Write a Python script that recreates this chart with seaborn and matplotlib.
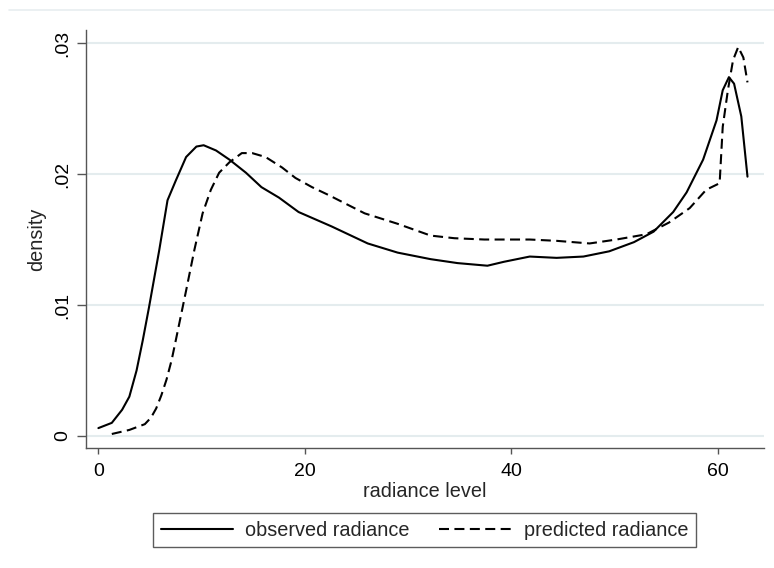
import matplotlib
matplotlib.use("Agg")
import matplotlib.pyplot as plt
from matplotlib.lines import Line2D
import seaborn as sns
import pandas as pd

# observed radiance (solid)
obs_x = [0.0, 1.3, 2.3, 3.0, 3.7, 4.3, 4.9, 5.9, 6.7, 7.5, 8.5, 9.5, 10.2, 11.4, 12.7,
         14.3, 15.8, 17.5, 19.4, 22.6, 26.1, 29.0, 32.2, 34.8, 37.7, 39.3, 41.8, 44.4,
         47.0, 49.5, 51.9, 53.8, 55.7, 57.0, 58.6, 59.9, 60.5, 61.1, 61.6, 62.3, 62.9]
obs_y = [0.0006, 0.0010, 0.0020, 0.0030, 0.0050, 0.0073, 0.0098, 0.0142, 0.0180, 0.0195,
         0.0213, 0.0221, 0.0222, 0.0218, 0.0211, 0.0201, 0.0190, 0.0182, 0.0171, 0.0160,
         0.0147, 0.0140, 0.0135, 0.0132, 0.0130, 0.0133, 0.0137, 0.0136, 0.0137, 0.0141,
         0.0148, 0.0156, 0.0171, 0.0186, 0.0211, 0.0241, 0.0264, 0.0274, 0.0269, 0.0244,
         0.0198]

# predicted radiance (dashed)
pred_x = [1.3, 3.0, 4.5, 5.1, 5.6, 6.1, 6.6, 7.1, 7.5, 8.5, 9.3, 10.1, 10.9, 11.7, 12.7,
          13.9, 14.9, 16.2, 17.8, 19.1, 20.7, 22.3, 25.8, 29.0, 32.2, 34.5, 37.4, 39.9,
          41.8, 44.4, 47.6, 50.2, 53.1, 55.3, 57.3, 58.9, 60.2, 60.5, 61.0, 61.5, 62.0,
          62.5, 62.9]
pred_y = [0.00015, 0.00046, 0.0009, 0.0014, 0.0021, 0.0031, 0.0043, 0.0058, 0.0073,
          0.0111, 0.0142, 0.0170, 0.0188, 0.0201, 0.0209, 0.0216, 0.0216, 0.0213, 0.0205,
          0.0197, 0.0190, 0.0184, 0.0170, 0.0162, 0.0153, 0.0151, 0.0150, 0.0150, 0.0150,
          0.0149, 0.0147, 0.0150, 0.0154, 0.0163, 0.0174, 0.0188, 0.0193, 0.0236, 0.0264,
          0.0287, 0.0297, 0.0289, 0.0270]

x_ticks = [0, 20, 40, 60]
y_ticks = [0, 0.01, 0.02, 0.03]
y_tick_labels = ["0", ".01", ".02", ".03"]

sns.set_theme(style="white")
plt.rcParams['font.family'] = ['Liberation Sans', 'DejaVu Sans']

FS = 14.3

fig = plt.figure(figsize=(7.74, 5.68), dpi=100)
ax = fig.add_axes([86/774, 1 - 448/568, (764 - 86)/774, (448 - 30)/568])

df_obs = pd.DataFrame({"x": obs_x, "y": obs_y})
df_pred = pd.DataFrame({"x": pred_x, "y": pred_y})
sns.lineplot(data=df_obs, x="x", y="y", ax=ax, color="black", lw=1.5,
             label="observed radiance", sort=False)
sns.lineplot(data=df_pred, x="x", y="y", ax=ax, color="black", lw=1.5,
             linestyle=(0, (4.8, 2.6)), label="predicted radiance", sort=False)

ax.set_xlim(-1.2, 64.5)
ax.set_ylim(-0.00092, 0.031)
ax.set_xticks(x_ticks)
ax.set_yticks(y_ticks)
ax.set_yticklabels(y_tick_labels, rotation=90, va="center")
ax.yaxis.grid(True, color="#e4ecee", lw=1.5)
ax.xaxis.grid(False)
ax.set_axisbelow(True)

for s in ["top", "right"]:
    ax.spines[s].set_visible(False)
for s in ["left", "bottom"]:
    ax.spines[s].set_color("#555555")
    ax.spines[s].set_linewidth(1.0)
ax.tick_params(axis="both", direction="out", width=1, color="#555555",
               labelsize=14, labelcolor="black", left=True, bottom=True)
ax.tick_params(axis="x", length=4.5, pad=6)
ax.tick_params(axis="y", length=6.5, pad=4)

ax.set_xlabel("radiance level", fontsize=FS, labelpad=2)
ax.set_ylabel("density", fontsize=FS, labelpad=6)

leg = ax.legend(loc="center", bbox_to_anchor=(424.5/774, 1 - 530/568),
                bbox_transform=fig.transFigure, ncol=2, fontsize=FS, frameon=True,
                fancybox=False, edgecolor="#333333", handlelength=3.65,
                columnspacing=1.5, handletextpad=0.6, borderpad=0.4)
leg.get_frame().set_linewidth(1.0)

fig.add_artist(Line2D([9/774, 1], [1 - 9.5/568, 1 - 9.5/568], color="#e8eef0", lw=1.2))

fig.savefig("out.png", dpi=100, facecolor="white")
